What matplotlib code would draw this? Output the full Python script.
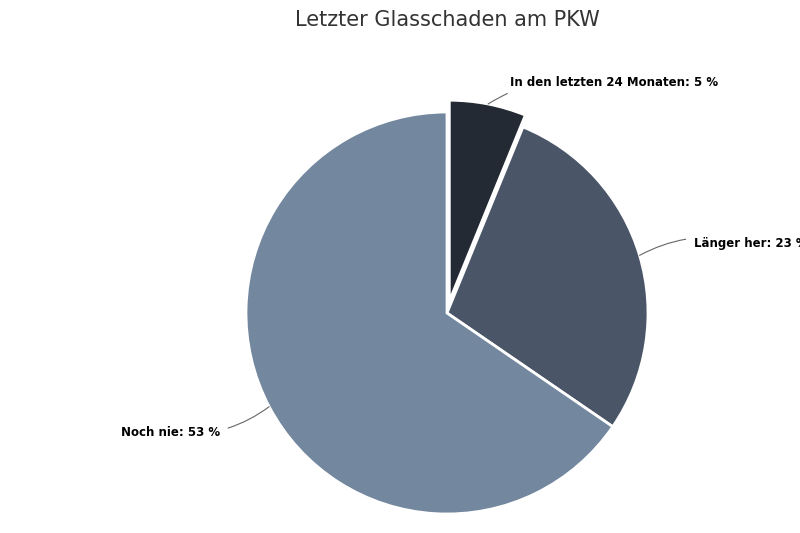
import matplotlib
matplotlib.use("Agg")
import matplotlib.pyplot as plt
import numpy as np

categories = ["In den letzten 24 Monaten", "Länger her", "Noch nie"]
values = [5, 23, 53]
colors = ["#232a33", "#4a5668", "#73879f"]

fig = plt.figure(figsize=(8, 5.33), dpi=100)
ax = fig.add_axes([0, 0, 1, 1])
cx, cy, r = 447, 533 - 313, 201
wedges, _ = ax.pie(values, colors=colors, startangle=90, counterclock=False,
                   center=(cx, cy), radius=r, explode=[12, 0, 0],
                   wedgeprops=dict(edgecolor="white", linewidth=2), frame=True)
ax.set_xlim(0, 800); ax.set_ylim(0, 533); ax.set_aspect("equal"); ax.axis("off")

text_pos = [(510, 451), (694, 290), (220, 100)]
has = ["left", "left", "right"]
for w, cat, v, (tx, ty), ha in zip(wedges, categories, values, text_pos, has):
    ang = np.deg2rad((w.theta1 + w.theta2) / 2)
    wx, wy = w.center
    px, py = wx + w.r * np.cos(ang), wy + w.r * np.sin(ang)
    ax.annotate(f"{cat}: {v} %", xy=(px, py), xytext=(tx, ty), ha=ha, va="center",
                fontsize=8.5, fontweight="bold", color="black",
                arrowprops=dict(arrowstyle="-", color="#666666", lw=0.8,
                                connectionstyle="arc3,rad=0.2", shrinkA=4, shrinkB=0),
                annotation_clip=False)

fig.text(447 / 800, 1 - 20 / 533, "Letzter Glasschaden am PKW", ha="center", va="center",
         fontsize=15, color="#333333")
fig.savefig("out.png", dpi=100, facecolor="white")
